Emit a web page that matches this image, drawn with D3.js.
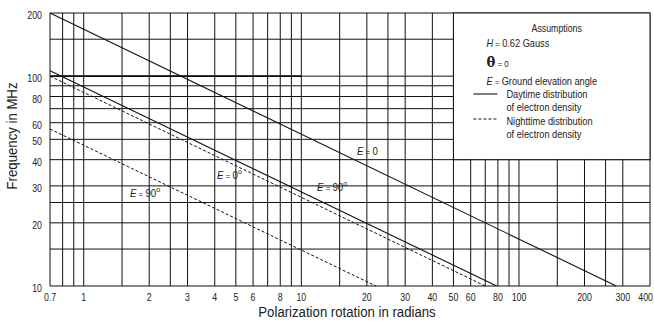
<!DOCTYPE html>
<html>
<head>
<meta charset="utf-8">
<script src="https://cdn.jsdelivr.net/npm/d3@7"></script>
<style>
    body { margin: 0; background: white; }
    text { font-family: 'Liberation Sans Narrow', 'Arial Narrow', 'Liberation Sans', sans-serif; fill: #222; }
</style>
</head>
<body>
<svg id="chart"></svg>
<script>
// grid positions (radians / MHz)
const xGrid = [0.7, 0.8, 0.9, 1, 1.5, 2, 2.5, 3, 4, 5, 6, 7, 8, 9, 10, 15, 20, 25, 30, 40,
    50, 60, 70, 80, 90, 100, 150, 200, 250, 300, 400];
const xTicks = [0.7, 1, 2, 3, 4, 5, 6, 8, 10, 20, 30, 40, 50, 60, 80, 100, 200, 300, 400];
const yGrid = [10, 15, 20, 25, 30, 40, 50, 60, 70, 80, 90, 100, 150, 200];
const yTicks = [10, 20, 30, 40, 50, 60, 80, 100, 200];

// curves: [rotation, frequency] end points
const dayE0 = [[0.7, 200], [280, 10]];
const dayE90 = [[0.7, 106], [79, 10]];
const nightE0 = [[0.7, 100], [70, 10]];
const nightE90 = [[0.7, 56], [22, 10]];

// curve labels: [rotation, frequency, text, degree sign]
const curveLabels = [
    [18, 44, '0', false],
    [4.1, 33.8, '0', true],
    [11.8, 29.6, '90', true],
    [1.63, 27.8, '90', true],
];

// legend box corners [rotation, frequency]
const legendBox = [[50, 40], [400, 200]];

const width = 654, height = 322;
const margin = { top: 13, right: 4, bottom: 36, left: 50 };
const squeeze = 0.88; // the original lettering is a condensed face

const svg = d3.select('#chart')
    .attr('width', width)
    .attr('height', height);

const x = d3.scaleLog()
    .domain([0.7, 400])
    .range([margin.left, width - margin.right]);
const y = d3.scaleLog()
    .domain([10, 200])
    .range([height - margin.bottom, margin.top]);

// put a text at (px, py) and squeeze it sideways
function place(sel, px, py, rot = 0) {
    sel.attr('transform', (d, i) => {
        const tx = typeof px === 'function' ? px(d, i) : px;
        const ty = typeof py === 'function' ? py(d, i) : py;
        return `translate(${tx},${ty}) rotate(${rot}) scale(${squeeze},1)`;
    });
    return sel;
}

const grid = svg.append('g');
grid.selectAll('line.v')
    .data(xGrid)
    .join('line')
    .attr('class', 'v')
    .attr('x1', d => x(d)).attr('x2', d => x(d))
    .attr('y1', y(10)).attr('y2', y(200))
    .attr('stroke', '#111')
    .attr('stroke-width', 1);
grid.selectAll('line.h')
    .data(yGrid)
    .join('line')
    .attr('class', 'h')
    .attr('x1', x(0.7)).attr('x2', x(400))
    .attr('y1', d => y(d)).attr('y2', d => y(d))
    .attr('stroke', '#111')
    .attr('stroke-width', 1);
// heavier 100 MHz rule on the left part
grid.append('line')
    .attr('x1', x(0.7)).attr('x2', x(10))
    .attr('y1', y(100)).attr('y2', y(100))
    .attr('stroke', '#111')
    .attr('stroke-width', 1.6);

// tick labels
place(svg.append('g')
    .selectAll('text')
    .data(xTicks)
    .join('text')
    .attr('text-anchor', (d, i) => i === xTicks.length - 1 ? 'end' : 'middle')
    .attr('font-size', 10)
    .text(d => d), (d, i) => i === xTicks.length - 1 ? width - 1 : x(d), y(10) + 15);
place(svg.append('g')
    .selectAll('text')
    .data(yTicks)
    .join('text')
    .attr('text-anchor', 'end')
    .attr('font-size', 10)
    .text(d => d), margin.left - 8, d => y(d) + 6);

// axis titles
place(svg.append('text')
    .attr('text-anchor', 'middle')
    .attr('font-size', 15)
    .text('Polarization rotation in radians'), 347, 317);
place(svg.append('text')
    .attr('text-anchor', 'middle')
    .attr('font-size', 15)
    .text('Frequency in MHz'), 17, 136, -90);

// curves
const line = d3.line().x(d => x(d[0])).y(d => y(d[1]));
const curves = svg.append('g').attr('fill', 'none').attr('stroke', '#111');
curves.append('path').datum(dayE0).attr('d', line).attr('stroke-width', 1.1);
curves.append('path').datum(dayE90).attr('d', line).attr('stroke-width', 1.1);
curves.append('path').datum(nightE0).attr('d', line).attr('stroke-width', 1).attr('stroke-dasharray', '3,2');
curves.append('path').datum(nightE90).attr('d', line).attr('stroke-width', 1).attr('stroke-dasharray', '3,2');

// curve labels
const cl = place(svg.append('g')
    .selectAll('text')
    .data(curveLabels)
    .join('text')
    .attr('font-size', 11), d => x(d[0]), d => y(d[1]) + 4);
cl.append('tspan').attr('font-style', 'italic').text('E');
cl.append('tspan').attr('font-size', 9).text(' = ');
cl.append('tspan').text(d => d[2]);
cl.filter(d => d[3]).append('tspan')
    .attr('font-size', 8)
    .attr('dy', -5)
    .text('o');

// legend
const lx0 = x(legendBox[0][0]), lx1 = x(legendBox[1][0]);
const ly0 = y(legendBox[1][1]), ly1 = y(legendBox[0][1]);
svg.append('rect')
    .attr('x', lx0).attr('y', ly0)
    .attr('width', lx1 - lx0).attr('height', ly1 - ly0)
    .attr('fill', 'white')
    .attr('stroke', '#111')
    .attr('stroke-width', 1);

const lg = svg.append('g');
place(lg.append('text')
    .attr('text-anchor', 'middle')
    .attr('font-size', 10)
    .text('Assumptions'), (lx0 + lx1) / 2 + 5, 32);
const h = place(lg.append('text').attr('font-size', 10.5), lx0 + 33, 47);
h.append('tspan').attr('font-style', 'italic').text('H');
h.append('tspan').attr('font-size', 9).text(' = ');
h.append('tspan').text('0.62 Gauss');
const th = place(lg.append('text'), lx0 + 33, 67);
th.append('tspan').attr('font-size', 15).attr('font-family', 'DejaVu Serif').attr('font-weight', 'bold').text('θ');
th.append('tspan').attr('font-size', 9).text(' = 0');
const e = place(lg.append('text').attr('font-size', 10.5), lx0 + 33, 85);
e.append('tspan').attr('font-style', 'italic').text('E');
e.append('tspan').attr('font-size', 9).text(' = ');
e.append('tspan').text('Ground elevation angle');

lg.append('line')
    .attr('x1', lx0 + 20).attr('x2', lx0 + 44)
    .attr('y1', 94).attr('y2', 94)
    .attr('stroke', '#111').attr('stroke-width', 1.1);
lg.append('line')
    .attr('x1', lx0 + 20).attr('x2', lx0 + 44)
    .attr('y1', 119).attr('y2', 119)
    .attr('stroke', '#111').attr('stroke-width', 1).attr('stroke-dasharray', '3,2');
const legendText = [
    [98, 'Daytime distribution'],
    [111, 'of electron density'],
    [125, 'Nighttime distribution'],
    [138, 'of electron density'],
];
place(lg.selectAll('text.item')
    .data(legendText)
    .join('text')
    .attr('class', 'item')
    .attr('font-size', 10.5)
    .text(d => d[1]), lx0 + 53, d => d[0]);
</script>
</body>
</html>
